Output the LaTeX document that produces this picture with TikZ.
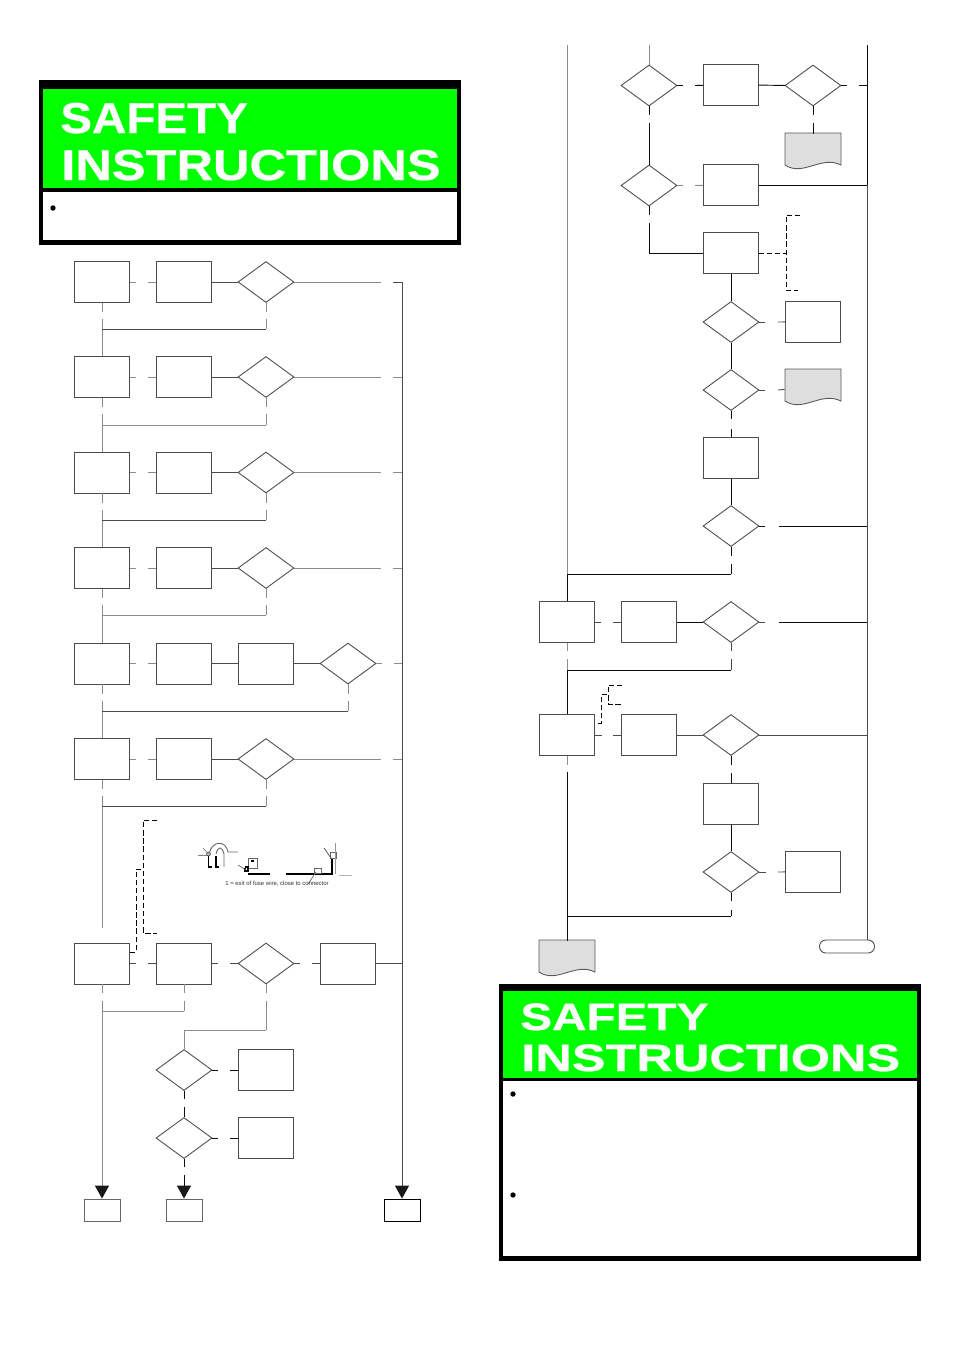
\documentclass[tikz,border=0pt]{standalone}
\usepackage{fontspec}
\setmainfont{Liberation Sans}
\newfontfamily\zagA[FakeStretch=1.10,BoldFeatures={FakeBold=0.6}]{Liberation Sans}
\newfontfamily\zagB[FakeStretch=1.17,BoldFeatures={FakeBold=0.6}]{Liberation Sans}
\newfontfamily\zagC[FakeStretch=1.25,BoldFeatures={FakeBold=0.6}]{Liberation Sans}
\newfontfamily\zagD[FakeStretch=1.325,BoldFeatures={FakeBold=0.6}]{Liberation Sans}
\usetikzlibrary{shapes,arrows.meta,calc,positioning}

\tikzset{
    blok/.style={draw=black!70, rectangle, inner sep=0pt, minimum width=1.1cm, minimum height=0.82cm, line width=0.5pt},
    romb/.style={draw=black!70, diamond, inner sep=0pt, minimum width=1.12cm, minimum height=0.82cm, line width=0.5pt},
    vyhod/.style={draw=black!60, rectangle, inner sep=0pt, minimum width=0.72cm, minimum height=0.44cm, line width=0.5pt},
    dokum/.style={rectangle, inner sep=0pt, minimum width=1.12cm, minimum height=0.66cm},
    lin/.style={black!70, line width=0.5pt},
    sv/.style={black!45, line width=0.55pt},
    tyom/.style={black!95, line width=0.55pt},
    shtrih/.style={black, line width=0.5pt, dash pattern=on 3pt off 1.6pt},
    strel/.style={-{Triangle[length=7.4pt,width=8pt,black!90]}}
}
\definecolor{zelen}{RGB}{0,255,0}
\definecolor{dokfon}{RGB}{222,222,222}
% серый лист с волной снизу
\newcommand{\dokum}[3]{
    \node [dokum] (#1) at (#2,#3+18) {};
    \draw [draw=black!65, fill=dokfon, line width=0.5pt] (#2-28,#3) -- (#2+28,#3) -- (#2+28,#3+32)
        .. controls (#2+8,#3+22) and (#2-10,#3+44) .. (#2-28,#3+32) -- cycle;
}

\begin{document}
\begin{tikzpicture}[x=0.02cm,y=-0.02cm]
    \useasboundingbox (0,0) rectangle (954,1350);
    %верхняя плашка
    \fill [black] (39,80) rectangle (461,245);
    \fill [white] (43,192) rectangle (457,240);
    \fill [zelen] (43,89) rectangle (457,188);
    \node [anchor=base west, inner sep=0pt, text=white] (saf1) at (60,133) {\zagA\fontsize{24.6}{28}\selectfont\bfseries SAFETY};
    \node [anchor=base west, inner sep=0pt, text=white] (ins1) at (61,180) {\zagB\fontsize{24.6}{28}\selectfont\bfseries INSTRUCTIONS};
    \fill [black] (53,208) circle (2.7);
    %нижняя плашка
    \fill [black] (499,984) rectangle (921,1261);
    \fill [white] (503,1081) rectangle (917,1256);
    \fill [zelen] (503,991) rectangle (917,1078);
    \node [anchor=base west, inner sep=0pt, text=white] (saf2) at (520,1030) {\zagC\fontsize{21.7}{25}\selectfont\bfseries SAFETY};
    \node [anchor=base west, inner sep=0pt, text=white] (ins2) at (521,1071) {\zagD\fontsize{21.7}{25}\selectfont\bfseries INSTRUCTIONS};
    \fill [black] (513,1094) circle (2.7);
    \fill [black] (513,1195) circle (2.7);

    %левая колонка, блоки
    \node [blok] (a1) at (102,282) {};
    \node [blok] (b1) at (184,282) {};
    \node [romb] (c1) at (266,282) {};
    \node [blok] (a2) at (102,377) {};
    \node [blok] (b2) at (184,377) {};
    \node [romb] (c2) at (266,377) {};
    \node [blok] (a3) at (102,472.5) {};
    \node [blok] (b3) at (184,472.5) {};
    \node [romb] (c3) at (266,472.5) {};
    \node [blok] (a4) at (102,568) {};
    \node [blok] (b4) at (184,568) {};
    \node [romb] (c4) at (266,568) {};
    \node [blok] (a5) at (102,663.5) {};
    \node [blok] (b5) at (184,663.5) {};
    \node [blok] (c5) at (266,663.5) {};
    \node [romb] (d5) at (348,663.5) {};
    \node [blok] (a6) at (102,759) {};
    \node [blok] (b6) at (184,759) {};
    \node [romb] (c6) at (266,759) {};
    \node [blok] (a7) at (102,963.5) {};
    \node [blok] (b7) at (184,963.5) {};
    \node [romb] (c7) at (266,963.5) {};
    \node [blok] (d7) at (348,963.5) {};
    \node [romb] (e1) at (184,1070) {};
    \node [blok] (f1) at (266,1070) {};
    \node [romb] (e2) at (184,1138) {};
    \node [blok] (f2) at (266,1138) {};
    \node [vyhod] (vyh1) at (102,1210) {};
    \node [vyhod] (vyh2) at (184,1210) {};
    \node [vyhod, draw=black] (vyh3) at (402,1210) {};

    %главная линия справа
    \coordinate (m1) at (402,282);
    \coordinate (m2) at (402,377);
    \coordinate (m3) at (402,472.5);
    \coordinate (m4) at (402,568);
    \coordinate (m5) at (402,663.5);
    \coordinate (m6) at (402,759);
    \coordinate (m7) at (402,963.5);
    \draw [lin, strel] (m1) -- (vyh3);

    %ряд 1
    \coordinate (p1a) at (136,282); \coordinate (p1b) at (148,282);
    \coordinate (p1c) at (381,282); \coordinate (p1d) at (393,282);
    \coordinate (p1e) at (102,312); \coordinate (p1f) at (102,319); \coordinate (p1g) at (102,329);
    \coordinate (p1h) at (266,312); \coordinate (p1i) at (266,319); \coordinate (p1j) at (266,329);
    \draw [sv] (a1) -- (p1a);
    \draw [sv] (p1b) -- (b1);
    \draw [lin] (b1) -- (c1);
    \draw [sv] (c1) -- (p1c);
    \draw [lin] (p1d) -- (m1);
    \draw [sv] (a1) -- (p1e);
    \draw [sv] (p1f) -- (a2);
    \draw [sv] (c1) -- (p1h);
    \draw [sv] (p1i) -- (p1j);
    \draw [lin] (p1j) -- (p1g);
    %ряд 2
    \coordinate (p2a) at (136,377); \coordinate (p2b) at (148,377);
    \coordinate (p2c) at (381,377); \coordinate (p2d) at (393,377);
    \coordinate (p2e) at (102,407); \coordinate (p2f) at (102,414); \coordinate (p2g) at (102,425);
    \coordinate (p2h) at (266,407); \coordinate (p2i) at (266,414); \coordinate (p2j) at (266,425);
    \draw [sv] (a2) -- (p2a);
    \draw [sv] (p2b) -- (b2);
    \draw [lin] (b2) -- (c2);
    \draw [sv] (c2) -- (p2c);
    \draw [sv] (p2d) -- (m2);
    \draw [sv] (a2) -- (p2e);
    \draw [sv] (p2f) -- (a3);
    \draw [sv] (c2) -- (p2h);
    \draw [sv] (p2i) -- (p2j);
    \draw [sv] (p2j) -- (p2g);
    %ряд 3
    \coordinate (p3a) at (136,472.5); \coordinate (p3b) at (148,472.5);
    \coordinate (p3c) at (381,472.5); \coordinate (p3d) at (393,472.5);
    \coordinate (p3e) at (102,503); \coordinate (p3f) at (102,510); \coordinate (p3g) at (102,520);
    \coordinate (p3h) at (266,503); \coordinate (p3i) at (266,510); \coordinate (p3j) at (266,520);
    \draw [sv] (a3) -- (p3a);
    \draw [sv] (p3b) -- (b3);
    \draw [lin] (b3) -- (c3);
    \draw [sv] (c3) -- (p3c);
    \draw [sv] (p3d) -- (m3);
    \draw [sv] (a3) -- (p3e);
    \draw [sv] (p3f) -- (a4);
    \draw [sv] (c3) -- (p3h);
    \draw [sv] (p3i) -- (p3j);
    \draw [lin] (p3j) -- (p3g);
    %ряд 4
    \coordinate (p4a) at (136,568); \coordinate (p4b) at (148,568);
    \coordinate (p4c) at (381,568); \coordinate (p4d) at (393,568);
    \coordinate (p4e) at (102,598); \coordinate (p4f) at (102,605); \coordinate (p4g) at (102,615);
    \coordinate (p4h) at (266,598); \coordinate (p4i) at (266,605); \coordinate (p4j) at (266,615);
    \draw [sv] (a4) -- (p4a);
    \draw [sv] (p4b) -- (b4);
    \draw [lin] (b4) -- (c4);
    \draw [sv] (c4) -- (p4c);
    \draw [sv] (p4d) -- (m4);
    \draw [sv] (a4) -- (p4e);
    \draw [sv] (p4f) -- (a5);
    \draw [sv] (c4) -- (p4h);
    \draw [sv] (p4i) -- (p4j);
    \draw [sv] (p4j) -- (p4g);
    %ряд 5
    \coordinate (p5a) at (136,663.5); \coordinate (p5b) at (148,663.5);
    \coordinate (p5c) at (382,663.5); \coordinate (p5d) at (394,663.5);
    \coordinate (p5e) at (102,694); \coordinate (p5f) at (102,701); \coordinate (p5g) at (102,711);
    \coordinate (p5h) at (348,694); \coordinate (p5i) at (348,701); \coordinate (p5j) at (348,711);
    \draw [sv] (a5) -- (p5a);
    \draw [sv] (p5b) -- (b5);
    \draw [lin] (b5) -- (c5);
    \draw [lin] (c5) -- (d5);
    \draw [sv] (d5) -- (p5c);
    \draw [sv] (p5d) -- (m5);
    \draw [sv] (a5) -- (p5e);
    \draw [sv] (p5f) -- (a6);
    \draw [sv] (d5) -- (p5h);
    \draw [sv] (p5i) -- (p5j);
    \draw [lin] (p5j) -- (p5g);
    %ряд 6
    \coordinate (p6a) at (136,759); \coordinate (p6b) at (148,759);
    \coordinate (p6c) at (381,759); \coordinate (p6d) at (393,759);
    \coordinate (p6e) at (102,789); \coordinate (p6f) at (102,796); \coordinate (p6g) at (102,806);
    \coordinate (p6h) at (266,789); \coordinate (p6i) at (266,796); \coordinate (p6j) at (266,806);
    \coordinate (p6k) at (102,928);
    \draw [sv] (a6) -- (p6a);
    \draw [sv] (p6b) -- (b6);
    \draw [lin] (b6) -- (c6);
    \draw [sv] (c6) -- (p6c);
    \draw [sv] (p6d) -- (m6);
    \draw [sv] (a6) -- (p6e);
    \draw [sv] (p6f) -- (p6k);
    \draw [sv] (c6) -- (p6h);
    \draw [sv] (p6i) -- (p6j);
    \draw [lin] (p6j) -- (p6g);
    %ряд 7
    \coordinate (p7a) at (136,963.5); \coordinate (p7b) at (148,963.5);
    \coordinate (p7c) at (218,963.5); \coordinate (p7d) at (230,963.5);
    \coordinate (p7e) at (300,963.5); \coordinate (p7f) at (312,963.5);
    \coordinate (p7g) at (102,993); \coordinate (p7h) at (102,1001); \coordinate (p7i) at (102,1011);
    \coordinate (p7j) at (184,993); \coordinate (p7k) at (184,1001); \coordinate (p7l) at (184,1011);
    \coordinate (p7m) at (266,993); \coordinate (p7n) at (266,1001); \coordinate (p7o) at (266,1030);
    \coordinate (p7p) at (184,1030);
    \draw [lin] (a7) -- (p7a);
    \draw [lin] (p7b) -- (b7);
    \draw [lin] (b7) -- (p7c);
    \draw [lin] (p7d) -- (c7);
    \draw [lin] (c7) -- (p7e);
    \draw [lin] (p7f) -- (d7);
    \draw [lin] (d7) -- (m7);
    \draw [sv] (a7) -- (p7g);
    \draw [sv, strel] (p7h) -- (vyh1);
    \draw [sv] (b7) -- (p7j);
    \draw [sv] (p7k) -- (p7l);
    \draw [sv] (p7l) -- (p7i);
    \draw [sv] (c7) -- (p7m);
    \draw [sv] (p7n) -- (p7o);
    \draw [sv] (p7o) -- (p7p);
    \draw [sv] (p7p) -- (e1);
    %два ромба внизу
    \coordinate (q1a) at (218,1070); \coordinate (q1b) at (230,1070);
    \coordinate (q1c) at (184,1099); \coordinate (q1d) at (184,1107);
    \coordinate (q2a) at (218,1138); \coordinate (q2b) at (230,1138);
    \coordinate (q2c) at (184,1167); \coordinate (q2d) at (184,1175);
    \draw [tyom] (e1) -- (q1a);
    \draw [tyom] (q1b) -- (f1);
    \draw [tyom] (e1) -- (q1c);
    \draw [tyom] (q1d) -- (e2);
    \draw [tyom] (e2) -- (q2a);
    \draw [tyom] (q2b) -- (f2);
    \draw [tyom] (e2) -- (q2c);
    \draw [tyom, strel] (q2d) -- (vyh2);

    %штриховая скобка слева
    \coordinate (s1) at (130,952);
    \coordinate (s2) at (136,952);
    \coordinate (s3) at (136,869);
    \coordinate (s4) at (143,869);
    \coordinate (s5) at (157,820);
    \coordinate (s6) at (143,820);
    \coordinate (s7) at (143,933);
    \coordinate (s8) at (157,933);
    \draw [shtrih] (s1) -- (s2) -- (s3) -- (s4);
    \draw [shtrih] (s5) -- (s6) -- (s7) -- (s8);

    %рисунок с проводом
    \draw [black!60, line width=0.5pt] (209,854) .. controls (212,840) and (226,840) .. (228,852) -- (238,852);
    \draw [black!60, line width=0.5pt] (216,854) .. controls (218,846) and (222,846) .. (224,854) -- (224,867);
    \draw [black!50, line width=0.4pt] (198,855) -- (209,855);
    \draw [black!50, line width=0.4pt] (203,848) -- (209,854);
    \draw [black, line width=0.8pt] (208.5,856) -- (208.5,867) -- (212,867);
    \draw [black, line width=0.8pt] (216,856) -- (216,867) -- (219,867);
    \draw [black!70, fill=black!30, line width=0.3pt] (208.5,854) circle (2);
    \draw [black!60, line width=0.4pt] (248,858) rectangle (257,868);
    \fill [black] (251,860) rectangle (254,862);
    \draw [black, line width=0.8pt] (245,867) -- (248,867) -- (248,871) -- (245,871) -- (245,868);
    \draw [black, line width=0.8pt] (248,874) -- (270,874);
    \draw [black!60, line width=0.4pt] (238,865) -- (246,870);
    \draw [black, line width=0.8pt] (286,874) -- (332,874) -- (332,858);
    \draw [black!60, line width=0.4pt] (314,868) rectangle (321,873);
    \draw [black!60, line width=0.4pt] (308,884) -- (316,872);
    \draw [black!60, line width=0.4pt] (330,852) rectangle (336,858);
    \draw [black!40, line width=0.5pt] (335,843) -- (335,874);
    \draw [black!70, line width=0.4pt] (324,848) -- (331,858);
    \draw [black!30, line width=0.5pt] (339,875) -- (352,875);
    \node [inner sep=0pt, text=black!80] (pods) at (277,883.5) {\fontsize{3.4}{4}\selectfont 1 = exit of fuse wire, close to connector};

    %правая колонка, блоки
    \node [romb] (g1) at (649,85.5) {};
    \node [blok] (h1) at (731,85) {};
    \node [romb] (i1) at (813,85.5) {};
    \dokum{n1}{813}{133}
    \node [romb] (g2) at (649,185.5) {};
    \node [blok] (h2) at (731,185) {};
    \node [blok] (h3) at (731,253) {};
    \node [romb] (i3) at (731,322) {};
    \node [blok] (k3) at (813,321.5) {};
    \node [romb] (i4) at (731,390) {};
    \dokum{n2}{813}{369}
    \node [blok] (h5) at (731,458) {};
    \node [romb] (i6) at (731,526) {};
    \node [blok] (t1) at (567,622) {};
    \node [blok] (u1) at (649,622) {};
    \node [romb] (w1) at (731,622) {};
    \node [blok] (t2) at (567,735) {};
    \node [blok] (u2) at (649,735) {};
    \node [romb] (w2) at (731,735) {};
    \node [blok] (h7) at (731,804) {};
    \node [romb] (i8) at (731,872) {};
    \node [blok] (k8) at (813,871.5) {};
    \dokum{n3}{567}{940}
    \node [rectangle, draw=black!70, rounded corners=3.6pt, inner sep=0pt, minimum width=1.1cm, minimum height=0.26cm, line width=0.5pt] (konec) at (847,946.5) {};

    %вертикали сверху
    \coordinate (top1) at (649,45);
    \coordinate (top2) at (567,45);
    \coordinate (top3) at (867,45);
    \coordinate (z0) at (567,574);
    \coordinate (z1) at (867,85.5);
    \coordinate (z2) at (867,185);
    \coordinate (z3) at (867,526);
    \coordinate (z4) at (867,622);
    \coordinate (z5) at (867,735);
    \coordinate (z6) at (867,940);
    \draw [sv] (top1) -- (g1);
    \draw [sv] (top2) -- (z0);
    \draw [tyom] (top3) -- (z2);
    \draw [lin] (z2) -- (z6);

    %верхний ряд
    \coordinate (r1a) at (683,85.5); \coordinate (r1b) at (695,85.5);
    \coordinate (r1c) at (847,85.5); \coordinate (r1d) at (859,85.5);
    \coordinate (r1e) at (649,115); \coordinate (r1f) at (649,123);
    \coordinate (r1g) at (813,115); \coordinate (r1h) at (813,123);
    \draw [tyom] (g1) -- (r1a);
    \draw [tyom] (r1b) -- (h1);
    \draw [tyom] (h1) -- (i1);
    \draw [tyom] (i1) -- (r1c);
    \draw [tyom] (r1d) -- (z1);
    \draw [tyom] (g1) -- (r1e);
    \draw [tyom] (r1f) -- (g2);
    \draw [tyom] (i1) -- (r1g);
    \draw [tyom] (r1h) -- (n1);
    %второй ряд
    \coordinate (r2a) at (683,185.5); \coordinate (r2b) at (695,185.5);
    \coordinate (r2c) at (649,215); \coordinate (r2d) at (649,223); \coordinate (r2e) at (649,253);
    \draw [sv] (g2) -- (r2a);
    \draw [sv] (r2b) -- (h2);
    \draw [tyom] (h2) -- (z2);
    \draw [tyom] (g2) -- (r2c);
    \draw [tyom] (r2d) -- (r2e) -- (h3);
    %штриховая скобка справа
    \coordinate (r3a) at (786,253);
    \coordinate (r3b) at (800,215);
    \coordinate (r3c) at (786,215);
    \coordinate (r3d) at (786,290);
    \coordinate (r3e) at (798,290);
    \draw [shtrih] (h3) -- (r3a);
    \draw [shtrih] (r3b) -- (r3c) -- (r3d) -- (r3e);
    %цепочка ромбов
    \coordinate (r4a) at (765,322); \coordinate (r4b) at (778,322);
    \coordinate (r5a) at (765,390); \coordinate (r5b) at (778,390);
    \coordinate (r5c) at (731,419); \coordinate (r5d) at (731,429);
    \coordinate (r6a) at (765,526); \coordinate (r6b) at (779,526);
    \coordinate (r6c) at (731,556); \coordinate (r6d) at (731,564); \coordinate (r6e) at (731,574);
    \draw [tyom] (h3) -- (i3);
    \draw [lin] (i3) -- (r4a);
    \draw [lin] (r4b) -- (k3);
    \draw [tyom] (i3) -- (i4);
    \draw [lin] (i4) -- (r5a);
    \draw [lin] (r5b) -- (n2);
    \draw [tyom] (i4) -- (r5c);
    \draw [tyom] (r5d) -- (h5);
    \draw [tyom] (h5) -- (i6);
    \draw [tyom] (i6) -- (r6a);
    \draw [tyom] (r6b) -- (z3);
    \draw [tyom] (i6) -- (r6c);
    \draw [tyom] (r6d) -- (r6e);
    \draw [tyom] (r6e) -- (z0);
    \draw [tyom] (z0) -- (t1);
    %ряд у левого края
    \coordinate (r7a) at (601,622); \coordinate (r7b) at (613,622);
    \coordinate (r7c) at (765,622); \coordinate (r7d) at (779,622);
    \coordinate (r7e) at (567,651); \coordinate (r7f) at (567,659); \coordinate (r7g) at (567,670);
    \coordinate (r7h) at (731,651); \coordinate (r7i) at (731,659); \coordinate (r7j) at (731,670);
    \draw [lin] (t1) -- (r7a);
    \draw [lin] (r7b) -- (u1);
    \draw [tyom] (u1) -- (w1);
    \draw [lin] (w1) -- (r7c);
    \draw [tyom] (r7d) -- (z4);
    \draw [sv] (t1) -- (r7e);
    \draw [sv] (r7f) -- (r7g);
    \draw [tyom] (r7g) -- (t2);
    \draw [lin] (w1) -- (r7h);
    \draw [lin] (r7i) -- (r7j);
    \draw [tyom] (r7j) -- (r7g);
    %нижний ряд
    \coordinate (r8a) at (602,735); \coordinate (r8b) at (613,735);
    \coordinate (r8c) at (567,765); \coordinate (r8d) at (567,772);
    \coordinate (r8e) at (731,765); \coordinate (r8f) at (731,773);
    \coordinate (r8g) at (766,872); \coordinate (r8h) at (778,872);
    \coordinate (r8i) at (731,901); \coordinate (r8j) at (731,910); \coordinate (r8k) at (731,916);
    \coordinate (r8l) at (567,916);
    \draw [lin] (t2) -- (r8a);
    \draw [lin] (r8b) -- (u2);
    \draw [lin] (u2) -- (w2);
    \draw [lin] (w2) -- (z5);
    \draw [sv] (t2) -- (r8c);
    \draw [tyom] (r8d) -- (n3);
    \draw [tyom] (w2) -- (r8e);
    \draw [tyom] (r8f) -- (h7);
    \draw [tyom] (h7) -- (i8);
    \draw [lin] (i8) -- (r8g);
    \draw [lin] (r8h) -- (k8);
    \draw [tyom] (i8) -- (r8i);
    \draw [tyom] (r8j) -- (r8k);
    \draw [tyom] (r8k) -- (r8l);
    %маленькая штриховая скобка
    \coordinate (y1) at (598,723);
    \coordinate (y2) at (601.5,723);
    \coordinate (y3) at (601.5,694.5);
    \coordinate (y4) at (608,694.5);
    \coordinate (y5) at (622,685);
    \coordinate (y6) at (608,685);
    \coordinate (y7) at (608,704);
    \coordinate (y8) at (622,704);
    \draw [shtrih] (y1) -- (y2) -- (y3) -- (y4);
    \draw [shtrih] (y5) -- (y6) -- (y7) -- (y8);
\end{tikzpicture}
\end{document}
